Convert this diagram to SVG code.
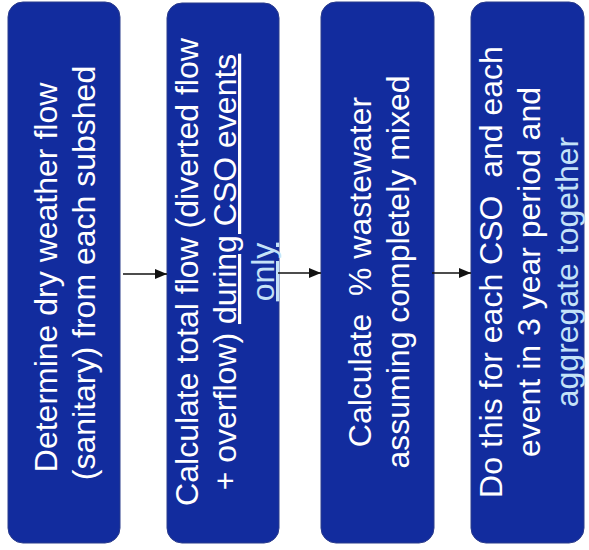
<svg xmlns="http://www.w3.org/2000/svg" width="589" height="550" viewBox="0 0 589 550">
  <style>
    .box { fill: #122c9e; stroke: #2b3c8c; stroke-width: 1; }
    .lbl { font-family: "Liberation Sans", Arial, sans-serif; font-size: 32px; fill: #ffffff; text-anchor: middle; }
    .hl { fill: #c4e2f8; }
    .ul { text-decoration: underline; }
    .conn { stroke: #111111; stroke-width: 1.6; fill: none; marker-end: url(#arrow); }
  </style>
  <defs>
    <marker id="arrow" viewBox="0 0 12 10" refX="12" refY="5" markerWidth="12" markerHeight="10" markerUnits="userSpaceOnUse" orient="auto">
      <path d="M0,0 L12,5 L0,10 Z" fill="#111111"/>
    </marker>
  </defs>
  <rect width="589" height="550" fill="#ffffff"/>

  <g id="node1">
    <rect class="box" x="8" y="2" width="112" height="541" rx="15" ry="15"/>
    <text class="lbl" transform="translate(0,273) rotate(-90)">
      <tspan x="0" y="57">Determine dry weather flow</tspan>
      <tspan x="0" y="95">(sanitary) from each subshed</tspan>
    </text>
  </g>

  <g id="node2">
    <rect class="box" x="167" y="3" width="112" height="540" rx="15" ry="15"/>
    <text class="lbl" transform="translate(0,272) rotate(-90)" xml:space="preserve"><tspan x="0" y="198">Calculate total flow (diverted flow</tspan><tspan x="0" y="236">+ overflow) <tspan class="ul">during CSO events</tspan></tspan><tspan x="0" y="274" class="hl ul">only</tspan></text>
  </g>

  <g id="node3">
    <rect class="box" x="321" y="2" width="113" height="541" rx="15" ry="15"/>
    <text class="lbl" transform="translate(0,272) rotate(-90)" xml:space="preserve"><tspan x="0" y="371">Calculate  % wastewater</tspan><tspan x="0" y="409">assuming completely mixed</tspan></text>
  </g>

  <g id="node4">
    <rect class="box" x="471" y="2" width="113" height="541" rx="15" ry="15"/>
    <text class="lbl" transform="translate(0,272) rotate(-90)" xml:space="preserve"><tspan x="0" y="502">Do this for each CSO  and each</tspan><tspan x="0" y="540">event in 3 year period and</tspan><tspan x="0" y="578" class="hl">aggregate together</tspan></text>
  </g>

  <g id="connectors">
    <line class="conn" x1="123" y1="274" x2="167" y2="274"/>
    <line class="conn" x1="278" y1="273" x2="321" y2="273"/>
    <line class="conn" x1="432" y1="273" x2="471" y2="273"/>
  </g>
</svg>
